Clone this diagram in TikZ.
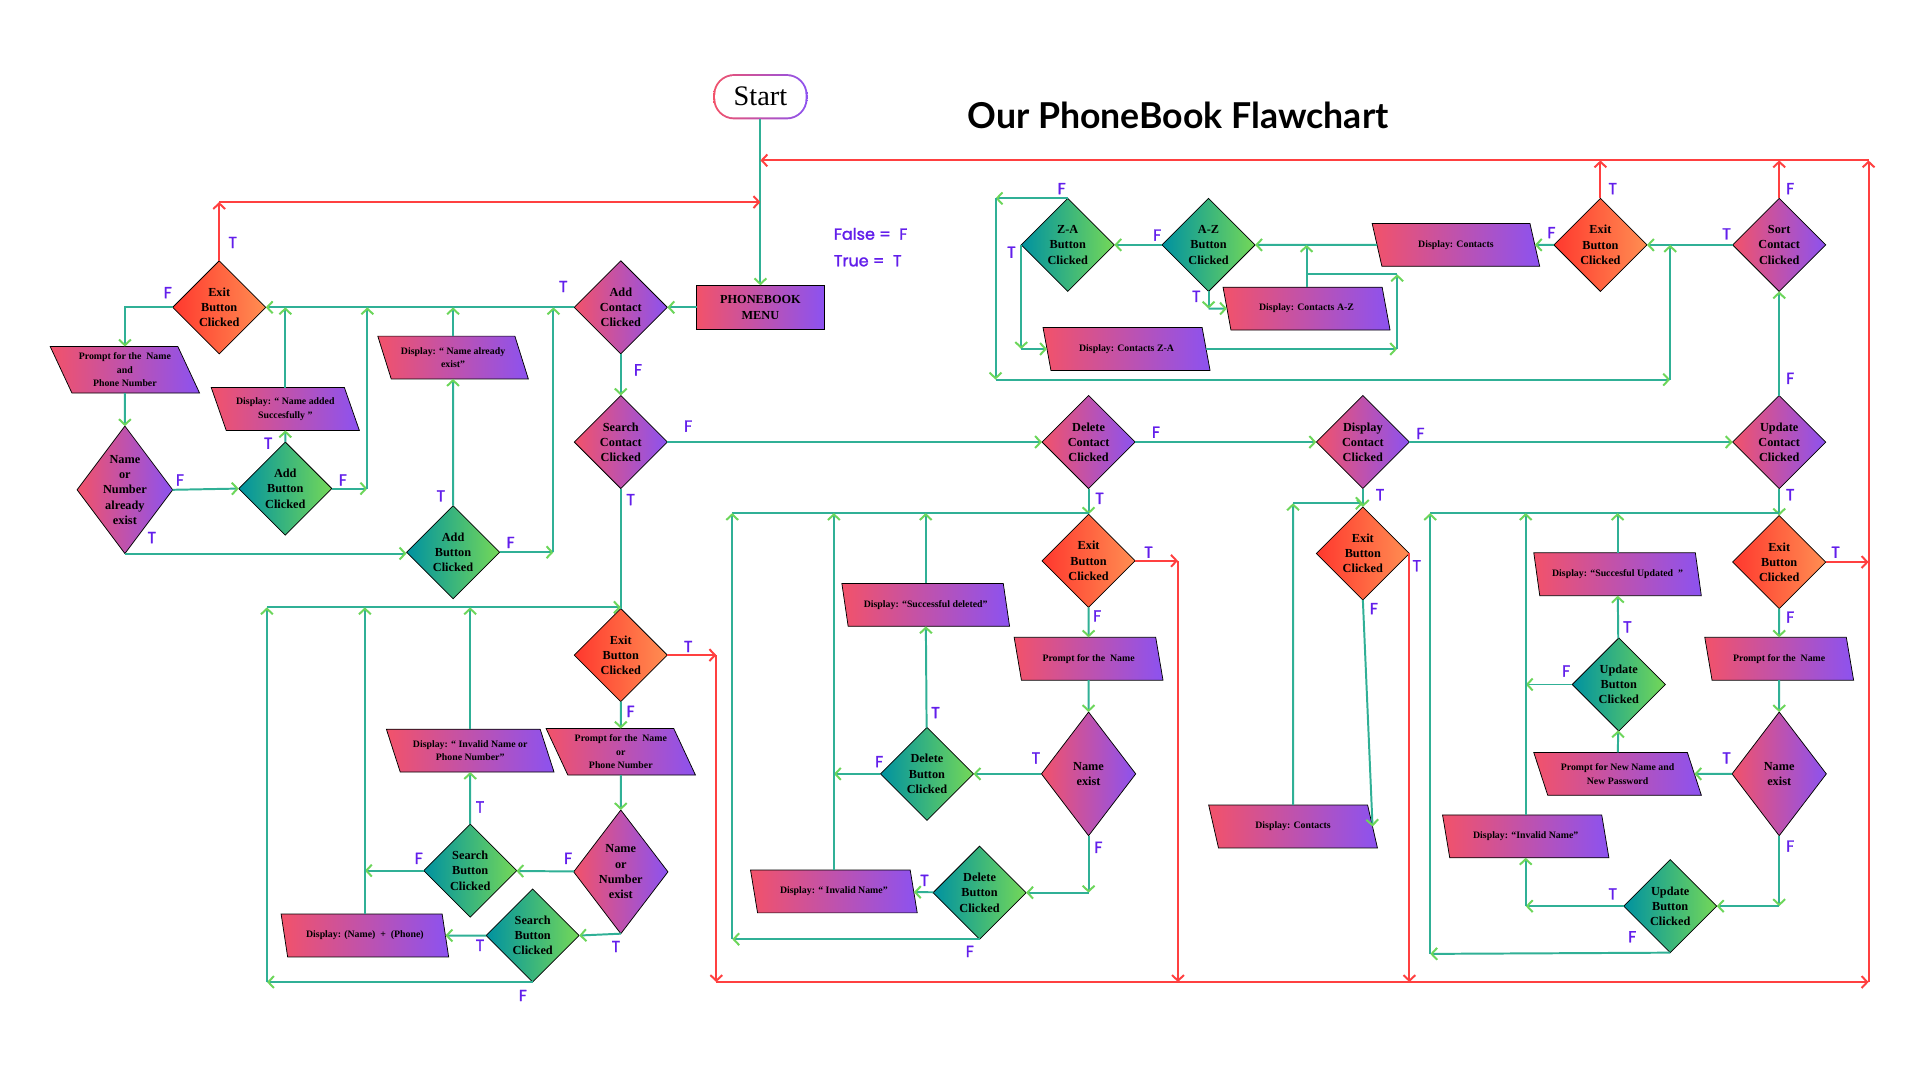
\documentclass[tikz,border=0pt]{standalone}
\usepackage{fontspec}
\setmainfont{Liberation Serif}
\newfontfamily\lblfont{Poppins}[FakeBold=1.6]
\newfontfamily\flowtitlefont{Lato}
\usepackage{tikz}
\usetikzlibrary{positioning,arrows.meta,shapes.geometric}
\definecolor{pinkl}{RGB}{242,82,106}
\definecolor{purpr}{RGB}{140,82,240}
\definecolor{exitl}{RGB}{255,56,46}
\definecolor{exitr}{RGB}{255,142,82}
\definecolor{grnl}{RGB}{0,146,160}
\definecolor{grnr}{RGB}{116,216,88}
\definecolor{flowc}{RGB}{48,176,150}
\definecolor{arrg}{RGB}{108,214,90}
\definecolor{redc}{RGB}{255,64,64}
\definecolor{tfc}{RGB}{98,30,235}
\newcommand{\upx}{0.35mm}
\tikzset{
	every node/.style={inner sep=0pt, outer sep=0pt},
	ask/.style={diamond, draw=black, line width=0.6pt, align=center, minimum width=76*\upx, minimum height=76*\upx, font=\bfseries\fontsize{10}{12.4}\selectfont},
	askp/.style={ask, left color=pinkl, right color=purpr},
	askx/.style={ask, left color=exitl, right color=exitr},
	askg/.style={ask, left color=grnl, right color=grnr},
	tall/.style={aspect=0.75, minimum width=77*\upx, minimum height=101*\upx},
	io/.style={trapezium, trapezium left angle=119, trapezium right angle=61, trapezium stretches=true, draw=black, line width=0.6pt, left color=pinkl, right color=purpr, minimum width=137*\upx, minimum height=35*\upx, align=center, font=\bfseries\fontsize{8}{11}\selectfont},
	menubox/.style={rectangle, draw=black, line width=0.6pt, left color=pinkl, right color=purpr, minimum width=104*\upx, minimum height=36*\upx, align=center, font=\bfseries\fontsize{10}{13}\selectfont},
	startbox/.style={rectangle, rounded corners=6mm, minimum width=77*\upx, minimum height=37*\upx, left color=pinkl, right color=purpr, font=\fontsize{23}{26}\selectfont,
		path picture={\fill[white, rounded corners=5.4mm] ([xshift=1.6pt,yshift=1.6pt]path picture bounding box.south west) rectangle ([xshift=-1.6pt,yshift=-1.6pt]path picture bounding box.north east);}},
	headline/.style={font=\flowtitlefont\bfseries\fontsize{29}{33}\selectfont},
	tf/.style={font=\lblfont\fontsize{13}{15}\selectfont, text=tfc},
	flow/.style={draw=flowc, line width=1.6pt, -{Straight Barb[length=1.6mm,width=3.4mm,color=arrg]}},
	flowline/.style={draw=flowc, line width=1.6pt},
	exitflow/.style={draw=redc, line width=1.6pt, -{Straight Barb[length=1.6mm,width=3.4mm]}}
}

\begin{document}
\begin{tikzpicture}[x=\upx, y=-\upx]
	\fill[white] (0,0) rectangle (1568,882);
	\useasboundingbox (0,0) rectangle (1568,882);
	
	\node[startbox] (start) at (621,79) {Start};
	\node[headline] (title) at (962,94) {Our PhoneBook Flawchart};
	\node[menubox] (menu) at (621,251) {PHONEBOOK\\MENU};
	\node[tf, anchor=west] (legF) at (681,191) {False =\ \ F};
	\node[tf, anchor=west] (legT) at (681,213) {True =\ \ T};
	
	% add contact
	\node[askp] (addc) at (507,251) {Add\\Contact\\Clicked};
	\node[askx] (exit1) at (179,251) {Exit\\Button\\Clicked};
	\node[io, minimum width=122*\upx, minimum height=38*\upx] (pr1) at (102,302) {Prompt for the\ \ Name\\and\\Phone Number};
	\node[askp, tall] (nn1) at (102,400) {Name\\or\\Number\\already\\exist};
	\node[askg] (addb1) at (233,399) {Add\\Button\\Clicked};
	\node[io, minimum width=122*\upx] (dadd) at (233,334) {Display: “ Name added\\Succesfully ”};
	\node[io, minimum width=123*\upx] (dexist) at (370,292) {Display: “ Name already\\exist”};
	\node[askg] (addb2) at (370,451) {Add\\Button\\Clicked};
	\coordinate (jA1) at (300,251);
	\coordinate (jA2) at (452,251);
	\coordinate (cEx1) at (179,165);
	
	\draw[flow] (start) -- (menu);
	\draw[flow] (menu) -- (addc);
	\draw[flow] (addc) -- (exit1);
	\draw[flow] (exit1.west) -| (pr1.north);
	\draw[flow] (pr1) -- (nn1);
	\draw[flow] (nn1.east) -- (addb1.west);
	\draw[flow] (nn1.south) -- (nn1.south -| addb2.west);
	\draw[flow] (addb1) -- (dadd);
	\draw[flow] (dadd.north) -- (dadd.north |- addc.west);
	\draw[flow] (addb1.east) -- (addb1.east -| jA1) edge (jA1);
	\draw[flow] (addb2) -- (dexist);
	\draw[flow] (dexist.north) -- (dexist.north |- addc.west);
	\draw[flow] (addb2.east) -- (addb2.east -| jA2) edge (jA2);
	\draw[exitflow] (exit1.north) -- (cEx1) edge (cEx1 -| menu.north);
	
	% search contact
	\node[askp] (srch) at (507,361) {Search\\Contact\\Clicked};
	\node[askx] (exit3) at (507,535) {Exit\\Button\\Clicked};
	\node[io, minimum width=122*\upx, minimum height=38*\upx] (pr2) at (507,614) {Prompt for the\ \ Name\\or\\Phone Number};
	\node[askp, tall] (nn2) at (507,712) {Name\\or\\Number\\exist};
	\node[askg] (sb1) at (384,711) {Search\\Button\\Clicked};
	\node[io] (dinv1) at (384,613) {Display: “ Invalid Name or\\Phone Number”};
	\node[askg] (sb2) at (435,764) {Search\\Button\\Clicked};
	\node[io] (dshow) at (298,764) {Display: (Name)\ \ +\ \ (Phone)};
	\coordinate (cS0) at (218,496);
	\coordinate (cS1) at (218,802);
	
	\draw[flow] (addc) -- (srch);
	\draw[flowline] (srch) -- (exit3);
	\draw[flow] (cS0) -- (cS0 -| exit3.north);
	\draw[flow] (exit3) -- (pr2);
	\draw[flow] (pr2) -- (nn2);
	\draw[flow] (nn2) -- (sb1);
	\draw[flow] (nn2.south) -- (sb2.east);
	\draw[flow] (sb1) -- (dinv1);
	\draw[flow] (dinv1.north) -- (dinv1.north |- cS0);
	\draw[flow] (sb1.west) -- (sb1.west -| dshow.north);
	\draw[flow] (dshow.north) -- (dshow.north |- cS0);
	\draw[flow] (sb2) -- (dshow);
	\draw[flow] (sb2.south) -- (cS1) edge (cS0);
	
	% delete contact
	\node[askp] (delc) at (889,361) {Delete\\Contact\\Clicked};
	\node[askx] (exit4) at (889,458) {Exit\\Button\\Clicked};
	\node[io, minimum width=122*\upx] (pr3) at (889,538) {Prompt for the\ \ Name};
	\node[askp, tall] (ne1) at (889,632) {Name\\exist};
	\node[askg] (db1) at (757,632) {Delete\\Button\\Clicked};
	\node[io] (dsd) at (756,494) {Display: “Successful deleted”};
	\node[askg] (db2) at (800,729) {Delete\\Button\\Clicked};
	\node[io] (dinv2) at (681,728) {Display: “ Invalid Name”};
	\coordinate (cD0) at (598,419);
	\coordinate (cD1) at (598,767);
	
	\draw[flow] (srch) -- (delc);
	\draw[flow] (delc) -- (exit4);
	\draw[flowline] (cD0) -- (cD0 -| exit4.north);
	\draw[flow] (exit4) -- (pr3);
	\draw[flow] (pr3) -- (ne1);
	\draw[flow] (ne1) -- (db1);
	\draw[flow] (db1) -- (dsd);
	\draw[flow] (dsd.north) -- (dsd.north |- cD0);
	\draw[flow] (db1.west) -- (db1.west -| dinv2.north);
	\draw[flow] (dinv2.north) -- (dinv2.north |- cD0);
	\draw[flow] (ne1.south) -- (ne1.south |- db2.east) edge (db2.east);
	\draw[flow] (db2) -- (dinv2);
	\draw[flow] (db2.south) -- (cD1) edge (cD0);
	
	% display contact
	\node[askp] (dispc) at (1113,361) {Display\\Contact\\Clicked};
	\node[askx] (exit5) at (1113,452) {Exit\\Button\\Clicked};
	\node[io, minimum width=138*\upx] (dcon) at (1056,675) {Display: Contacts};
	\coordinate (cP0) at (1056,411);
	
	\draw[flow] (delc) -- (dispc);
	\draw[flow] (dispc) -- (exit5);
	\draw[flow] (dcon.north) -- (cP0);
	\draw[flow] (cP0) -- (cP0 -| exit5.north);
	\draw[flow] (exit5.south) -- (dcon.east);
	
	% sort contact
	\node[askp] (updc) at (1453,361) {Update\\Contact\\Clicked};
	\node[askp] (sortc) at (1453,200) {Sort\\Contact\\Clicked};
	\node[askx] (exit6) at (1307,200) {Exit\\Button\\Clicked};
	\node[io] (dcs) at (1189,200) {Display: Contacts};
	\node[askg] (az) at (987,200) {A-Z\\Button\\Clicked};
	\node[askg] (za) at (872,200) {Z-A\\Button\\Clicked};
	\node[io] (azd) at (1067,252) {Display: Contacts A-Z};
	\node[io] (zad) at (920,285) {Display: Contacts Z-A};
	\coordinate (cZ1) at (813,162);
	\coordinate (cZ2) at (813,310);
	\coordinate (cZ3) at (1364,310);
	\coordinate (cZ4) at (1364,200);
	\coordinate (cJ1) at (1141,285);
	\coordinate (cJ2) at (1141,224);
	
	\draw[flow] (dispc) -- (updc);
	\draw[flow] (updc) -- (sortc);
	\draw[flow] (sortc) -- (exit6);
	\draw[flow] (exit6) -- (dcs);
	\draw[flow] (dcs) -- (az);
	\draw[flow] (az) -- (za);
	\draw[flow] (za.north) -- (cZ1) edge (cZ2);
	\draw[flow] (cZ2) -- (cZ3) edge (cZ4);
	\draw[flow] (za.west) -- (za.west |- zad) edge (zad);
	\draw[flow] (az.south) -- (az.south |- azd) edge (azd);
	\draw[flow] (zad) -- (cJ1) edge (cJ2);
	\draw[flowline] (cJ2) -- (cJ2 -| azd.north);
	\draw[flow] (azd.north) -- (azd.north |- az.east);
	
	% update contact
	\node[askx] (exit7) at (1453,459) {Exit\\Button\\Clicked};
	\node[io, minimum width=122*\upx] (pr4) at (1453,538) {Prompt for the\ \ Name};
	\node[askp, tall] (ne2) at (1453,632) {Name\\exist};
	\node[io] (pnn) at (1321,632) {Prompt for New Name and\\New Password};
	\node[askg] (ub1) at (1322,559) {Update\\Button\\Clicked};
	\node[io] (dsu) at (1321,469) {Display: “Succesful Updated\ \ ”};
	\node[io] (dinv3) at (1246,683) {Display: “Invalid Name”};
	\node[askg] (ub2) at (1364,740) {Update\\Button\\Clicked};
	\coordinate (cU0) at (1168,419);
	\coordinate (cU1) at (1168,779);
	
	\draw[flow] (updc) -- (exit7);
	\draw[flowline] (cU0) -- (cU0 -| exit7.north);
	\draw[flow] (exit7) -- (pr4);
	\draw[flow] (pr4) -- (ne2);
	\draw[flow] (ne2) -- (pnn);
	\draw[flow] (pnn) -- (ub1);
	\draw[flow] (ub1) -- (dsu);
	\draw[flow] (dsu.north) -- (dsu.north |- cU0);
	\draw[flow] (ub1.west) -- (ub1.west -| dinv3.north);
	\draw[flow] (dinv3.north) -- (dinv3.north |- cU0);
	\draw[flow] (ne2.south) -- (ne2.south |- ub2.east) edge (ub2.east);
	\draw[flow] (ub2.west) -- (ub2.west -| dinv3.south) edge (dinv3.south);
	\draw[flow] (ub2.south) -- (cU1) edge (cU0);
	
	% exits back to the menu
	\coordinate (rS) at (585,535);
	\coordinate (rD) at (962,458);
	\coordinate (rB) at (1526,802);
	\coordinate (rT) at (1526,131);
	\draw[exitflow] (exit3.east) -- (rS) edge (rS |- rB);
	\draw[exitflow] (exit4.east) -- (rD) edge (rD |- rB);
	\draw[exitflow] (exit5.east) -- (exit5.east |- rB);
	\draw[exitflow] (rS |- rB) -- (rB) edge (rT);
	\draw[exitflow] (exit7.east) -- (exit7.east -| rT);
	\draw[exitflow] (exit6.north) -- (exit6.north |- rT);
	\draw[exitflow] (sortc.north) -- (sortc.north |- rT);
	\draw[exitflow] (rT) -- (rT -| menu.north);
	
	% T / F marks
	\foreach \n/\x/\y/\t in {
		tfA/190/198/T, tfB/137/239/F, tfC/460/234/T, tfD/521/302/F, tfE/147/392/F, tfF/124/439/T,
		tfG/219/362/T, tfH/280/392/F, tfI/360/405/T, tfJ/417/443/F, tfK/562/348/F, tfL/515/408/T,
		tfM/562/528/T, tfN/515/581/F, tfO/464/701/F, tfP/503/773/T, tfQ/392/659/T, tfR/342/701/F,
		tfS/392/772/T, tfU/427/813/F, tfV/944/353/F, tfW/898/407/T, tfX/938/451/T, tfY/896/503/F,
		tfZ/846/619/T, tfa/764/582/T, tfb/718/622/F, tfc/897/692/F, tfd/755/719/T, tfe/792/777/F,
		tff/1160/354/F, tfg/1127/404/T, tfh/1157/462/T, tfi/1122/497/F, tfj/1462/309/F, tfk/1462/154/F,
		tfl/1410/191/T, tfm/1317/154/T, tfn/1267/190/F, tfo/945/192/F, tfp/867/154/F, tfq/826/206/T,
		tfr/977/242/T, tfs/1462/404/T, tft/1499/451/T, tfu/1462/504/F, tfv/1410/619/T, tfw/1329/512/T,
		tfx/1279/548/F, tfy/1462/691/F, tfz/1317/730/T, tfzz/1333/765/F}
	\node[tf] (\n) at (\x,\y) {\t};
\end{tikzpicture}
\end{document}
